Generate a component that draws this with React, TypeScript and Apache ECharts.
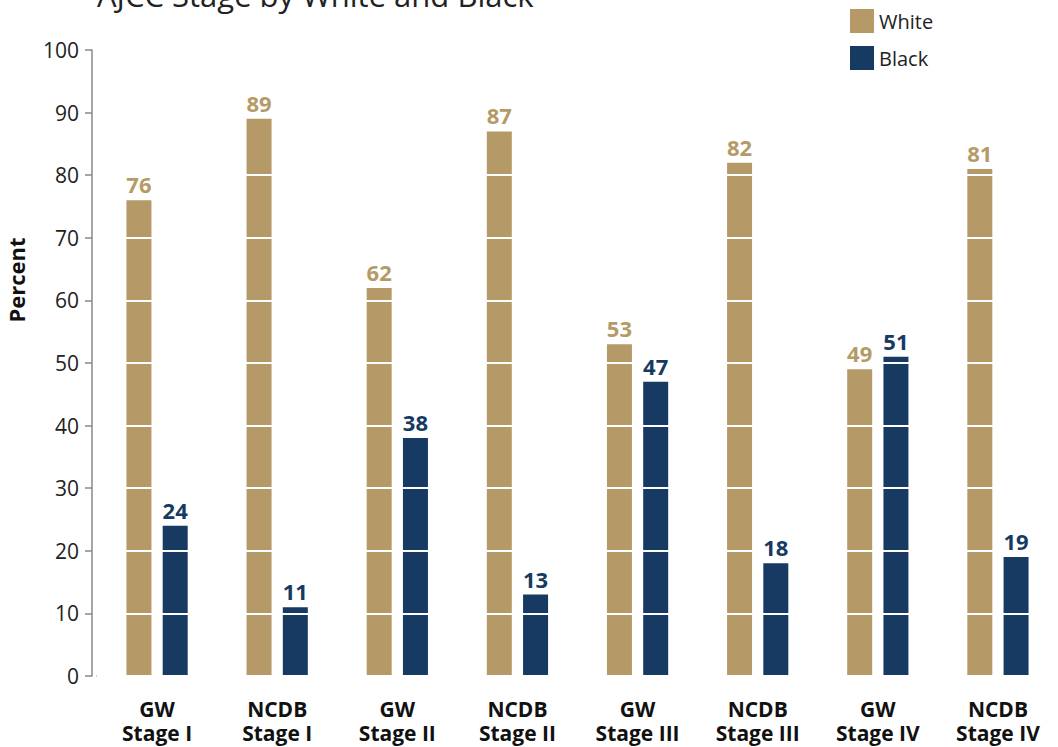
import React, { useEffect, useRef } from "react";
import * as echarts from "echarts";

const categories = [
  "GW\nStage I",
  "NCDB\nStage I",
  "GW\nStage II",
  "NCDB\nStage II",
  "GW\nStage III",
  "NCDB\nStage III",
  "GW\nStage IV",
  "NCDB\nStage IV",
];
const whiteValues = [76, 89, 62, 87, 53, 82, 49, 81];
const blackValues = [24, 11, 38, 13, 47, 18, 51, 19];

const TAN = "#B59A67";
const NAVY = "#173A63";
const FONT = "'Open Sans', 'Noto Sans', sans-serif";

const BAR_W = 25;
const GAP = 0.45;
const OFF = (BAR_W * (1 + GAP)) / 2;

function labelSeries(name: string, data: number[], color: string, dx: number) {
  return {
    name,
    type: "scatter",
    data,
    symbolSize: 0,
    z: 10,
    silent: true,
    itemStyle: { color: "transparent", opacity: 1 },
    emphasis: { disabled: true },
    label: {
      show: true,
      position: "top",
      distance: 5,
      offset: [dx, 0],
      fontSize: 22,
      fontWeight: "bold",
      color,
      opacity: 1,
      fontFamily: FONT,
    },
  };
}

export default function App() {
  const ref = useRef<HTMLDivElement>(null);
  useEffect(() => {
    if (!ref.current) return;
    const chart = echarts.init(ref.current, null, { renderer: "svg" });
    chart.setOption({
      animation: false,
      backgroundColor: "#fff",
      textStyle: { fontFamily: FONT },
      grid: { left: 97, right: 0, top: 50, bottom: 71, containLabel: false },
      legend: {
        orient: "vertical",
        left: 845,
        top: 4,
        z: 20,
        itemWidth: 24,
        itemHeight: 24,
        itemGap: 13,
        icon: "rect",
        textStyle: { fontSize: 20, color: "#222", fontFamily: FONT },
        data: ["White", "Black"],
      },
      graphic: [
        {
          type: "text",
          left: 97,
          top: -21,
          style: {
            text: "AJCC Stage by White and Black",
            fontSize: 31,
            fill: "#222",
            fontFamily: FONT,
          },
        },
        {
          type: "text",
          x: 16,
          y: 280,
          rotation: Math.PI / 2,
          style: {
            text: "Percent",
            fontSize: 22,
            fontWeight: "bold",
            fill: "#111",
            fontFamily: FONT,
            align: "center",
            verticalAlign: "middle",
          },
        },
      ],
      xAxis: {
        type: "category",
        data: categories,
        axisLine: { lineStyle: { color: "#888", width: 1.5 } },
        axisTick: { show: false },
        axisLabel: {
          fontSize: 21,
          fontWeight: "bold",
          color: "#111",
          margin: 21,
          lineHeight: 24,
          interval: 0,
          fontFamily: FONT,
        },
      },
      yAxis: {
        type: "value",
        min: 0,
        max: 100,
        interval: 10,
        offset: 5,
        z: 5,
        axisLine: { show: true, lineStyle: { color: "#888", width: 1.5 } },
        axisTick: { show: true, length: 7, lineStyle: { color: "#888", width: 1.5 } },
        axisLabel: { fontSize: 21, color: "#222", margin: 13, fontFamily: FONT },
        splitLine: { show: true, lineStyle: { color: "#fff", width: 2 } },
      },
      series: [
        {
          name: "White",
          type: "bar",
          data: whiteValues,
          barWidth: BAR_W,
          barGap: GAP * 100 + "%",
          itemStyle: { color: TAN },
        },
        {
          name: "Black",
          type: "bar",
          data: blackValues,
          barWidth: BAR_W,
          barGap: GAP * 100 + "%",
          itemStyle: { color: NAVY },
        },
        labelSeries("WhiteLabels", whiteValues, TAN, -OFF),
        labelSeries("BlackLabels", blackValues, NAVY, OFF),
      ],
    });
    return () => chart.dispose();
  }, []);
  return (
    <div
      ref={ref}
      style={{ position: "fixed", left: 0, top: 0, width: 1058, height: 747 }}
    />
  );
}
